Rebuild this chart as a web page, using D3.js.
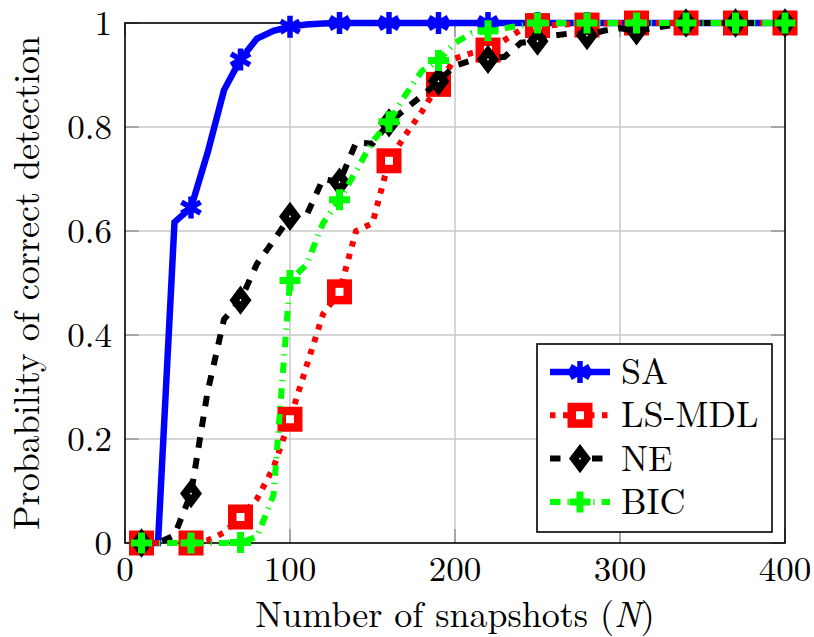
<!DOCTYPE html>
<html>
<head>
<meta charset="utf-8">
<script src="https://cdn.jsdelivr.net/npm/d3@7"></script>
<style>
  body { margin: 0; background: #fff; }
  svg { display: block; }
</style>
</head>
<body>
<svg id="chart" width="814" height="637"></svg>
<script>
// Number of snapshots N
const snapshots = [10, 20, 30, 40, 50, 60, 70, 80, 90, 100,
  110, 120, 130, 140, 150, 160, 170, 180, 190, 200,
  210, 220, 230, 240, 250, 260, 270, 280, 290, 300,
  310, 320, 330, 340, 350, 360, 370, 380, 390, 400];

// Probability of correct detection per method
const saValues = [0, 0, 0.617, 0.645, 0.75, 0.871, 0.93, 0.97, 0.985, 0.993,
  0.997, 0.999, 1, 1, 1, 1, 1, 1, 1, 1,
  1, 1, 1, 1, 1, 1, 1, 1, 1, 1,
  1, 1, 1, 1, 1, 1, 1, 1, 1, 1];
const lsMdlValues = [0, 0, 0, 0, 0.005, 0.02, 0.05, 0.085, 0.145, 0.238,
  0.34, 0.44, 0.483, 0.6, 0.615, 0.735, 0.785, 0.83, 0.882, 0.932,
  0.942, 0.948, 0.967, 0.987, 0.995, 0.996, 0.998, 0.996, 0.999, 1,
  1, 1, 1, 1, 1, 1, 1, 1, 1, 1];
const neValues = [0, 0, 0.015, 0.095, 0.29, 0.43, 0.467, 0.537, 0.581, 0.628,
  0.63, 0.70, 0.694, 0.77, 0.768, 0.808, 0.835, 0.86, 0.888, 0.918,
  0.928, 0.93, 0.935, 0.962, 0.965, 0.976, 0.98, 0.976, 0.985, 0.99,
  0.985, 0.99, 0.995, 1, 1, 1, 1, 1, 1, 1];
const bicValues = [0, 0, 0, 0, 0, 0, 0.001, 0.012, 0.092, 0.505,
  0.535, 0.615, 0.66, 0.715, 0.772, 0.81, 0.862, 0.908, 0.928, 0.962,
  0.98, 0.985, 0.99, 0.995, 1, 1, 1, 1, 1, 1,
  1, 1, 1, 1, 1, 1, 1, 1, 1, 1];

const seriesNames = ["SA", "LS-MDL", "NE", "BIC"];
const xTicks = [0, 100, 200, 300, 400];
const yTicks = [0, 0.2, 0.4, 0.6, 0.8, 1];
const yTickLabels = ["0", "0.2", "0.4", "0.6", "0.8", "1"];
const xAxisTitle = "Number of snapshots (";
const yAxisTitle = "Probability of correct detection";

const series = [
  { name: seriesNames[0], values: saValues, color: "#0000ff", dash: null, width: 6.5, mark: "asterisk" },
  { name: seriesNames[1], values: lsMdlValues, color: "#ff0000", dash: "5.5,7.5", width: 6, mark: "square" },
  { name: seriesNames[2], values: neValues, color: "#000000", dash: "10.5,10.5", width: 6, mark: "diamond" },
  { name: seriesNames[3], values: bicValues, color: "#00ff00", dash: "10.5,7,1.3,7", width: 6, mark: "plus" }
];

const serif = '"Latin Modern Roman", "Liberation Serif"';
const svg = d3.select("#chart");
const plotLeft = 125, plotRight = 785, plotTop = 23, plotBottom = 543;
const x = d3.scaleLinear().domain([0, 400]).range([plotLeft, plotRight]);
const y = d3.scaleLinear().domain([0, 1]).range([plotBottom, plotTop]);

// grid
const grid = svg.append("g");
grid.selectAll("line.gx").data(xTicks.slice(1, -1)).join("line")
  .attr("x1", d => x(d)).attr("x2", d => x(d))
  .attr("y1", plotTop).attr("y2", plotBottom)
  .attr("stroke", "#c8c8c8").attr("stroke-width", 1.5);
grid.selectAll("line.gy").data(yTicks.slice(1, -1)).join("line")
  .attr("y1", d => y(d)).attr("y2", d => y(d))
  .attr("x1", plotLeft).attr("x2", plotRight)
  .attr("stroke", "#c8c8c8").attr("stroke-width", 1.5);

// inward tick marks on all four sides
const tickLen = 14;
const ticks = svg.append("g").attr("stroke", "#9a9a9a").attr("stroke-width", 1.6);
yTicks.forEach(v => {
  ticks.append("line").attr("x1", plotLeft).attr("x2", plotLeft + tickLen).attr("y1", y(v)).attr("y2", y(v));
  ticks.append("line").attr("x1", plotRight).attr("x2", plotRight - tickLen).attr("y1", y(v)).attr("y2", y(v));
});
xTicks.forEach(v => {
  ticks.append("line").attr("y1", plotBottom).attr("y2", plotBottom - tickLen).attr("x1", x(v)).attr("x2", x(v));
  ticks.append("line").attr("y1", plotTop).attr("y2", plotTop + tickLen).attr("x1", x(v)).attr("x2", x(v));
});

// axis box
svg.append("rect").attr("x", plotLeft).attr("y", plotTop)
  .attr("width", plotRight - plotLeft).attr("height", plotBottom - plotTop)
  .attr("fill", "none").attr("stroke", "#000").attr("stroke-width", 1.6);

// tick labels
const tickFs = 35, titleFs = 36;
svg.append("g").selectAll("text").data(xTicks).join("text")
  .attr("x", d => x(d)).attr("y", 581)
  .attr("text-anchor", "middle").attr("font-size", tickFs).attr("font-family", serif)
  .text(d => d);
svg.append("g").selectAll("text").data(yTicks).join("text")
  .attr("x", 112).attr("y", d => y(d) + 12)
  .attr("text-anchor", "end").attr("font-size", tickFs).attr("font-family", serif)
  .text((d, i) => yTickLabels[i]);

// axis titles
const xt = svg.append("text").attr("x", (plotLeft + plotRight) / 2).attr("y", 627)
  .attr("text-anchor", "middle").attr("font-size", titleFs).attr("font-family", serif);
xt.append("tspan").text(xAxisTitle);
xt.append("tspan").attr("font-style", "italic").text("N");
xt.append("tspan").text(")");
svg.append("text")
  .attr("transform", `translate(39,${(plotTop + plotBottom) / 2}) rotate(-90)`)
  .attr("text-anchor", "middle").attr("font-size", titleFs).attr("font-family", serif)
  .text(yAxisTitle);

// marker shapes
function drawMarker(g, type, cx, cy, color) {
  if (type === "asterisk") {
    const r = 11;
    const p = d3.path();
    [90, 30, 150].forEach(a => {
      const rad = a * Math.PI / 180;
      p.moveTo(cx - r * Math.cos(rad), cy - r * Math.sin(rad));
      p.lineTo(cx + r * Math.cos(rad), cy + r * Math.sin(rad));
    });
    g.append("path").attr("d", p.toString()).attr("stroke", color)
      .attr("stroke-width", 5.5).attr("fill", "none");
  } else if (type === "square") {
    const s = 16.5;
    g.append("rect").attr("x", cx - s / 2).attr("y", cy - s / 2)
      .attr("width", s).attr("height", s)
      .attr("fill", "#fff").attr("stroke", color).attr("stroke-width", 8.5);
  } else if (type === "diamond") {
    const hw = 6, hh = 8;
    const p = d3.path();
    p.moveTo(cx, cy - hh); p.lineTo(cx + hw, cy); p.lineTo(cx, cy + hh); p.lineTo(cx - hw, cy); p.closePath();
    g.append("path").attr("d", p.toString()).attr("fill", "#fff")
      .attr("stroke", color).attr("stroke-width", 8).attr("stroke-linejoin", "miter");
  } else if (type === "plus") {
    const r = 10.5;
    const p = d3.path();
    p.moveTo(cx - r, cy); p.lineTo(cx + r, cy);
    p.moveTo(cx, cy - r); p.lineTo(cx, cy + r);
    g.append("path").attr("d", p.toString()).attr("stroke", color)
      .attr("stroke-width", 7).attr("fill", "none");
  }
}

// series lines and markers (markers on every third sample)
const line = d3.line().x(d => x(d[0])).y(d => y(d[1]));
series.forEach(s => {
  const pts = snapshots.map((n, i) => [n, s.values[i]]);
  const g = svg.append("g");
  g.append("path").datum(pts).attr("d", line)
    .attr("fill", "none").attr("stroke", s.color).attr("stroke-width", s.width)
    .attr("stroke-dasharray", s.dash).attr("stroke-linejoin", "miter");
  pts.filter((d, i) => i % 3 === 0).forEach(d => drawMarker(g, s.mark, x(d[0]), y(d[1]), s.color));
});

// legend
const lg = svg.append("g");
lg.append("rect").attr("x", 537).attr("y", 344).attr("width", 235).attr("height", 188)
  .attr("fill", "#fff").attr("stroke", "#000").attr("stroke-width", 1.6);
series.forEach((s, i) => {
  const cy = 372 + i * 43.3;
  lg.append("line").attr("x1", 550).attr("x2", 610).attr("y1", cy).attr("y2", cy)
    .attr("stroke", s.color).attr("stroke-width", s.width).attr("stroke-dasharray", s.dash);
  drawMarker(lg, s.mark, 580, cy, s.color);
  lg.append("text").attr("x", 621).attr("y", cy + 12).attr("font-size", titleFs)
    .attr("font-family", serif).text(s.name);
});
</script>
</body>
</html>
